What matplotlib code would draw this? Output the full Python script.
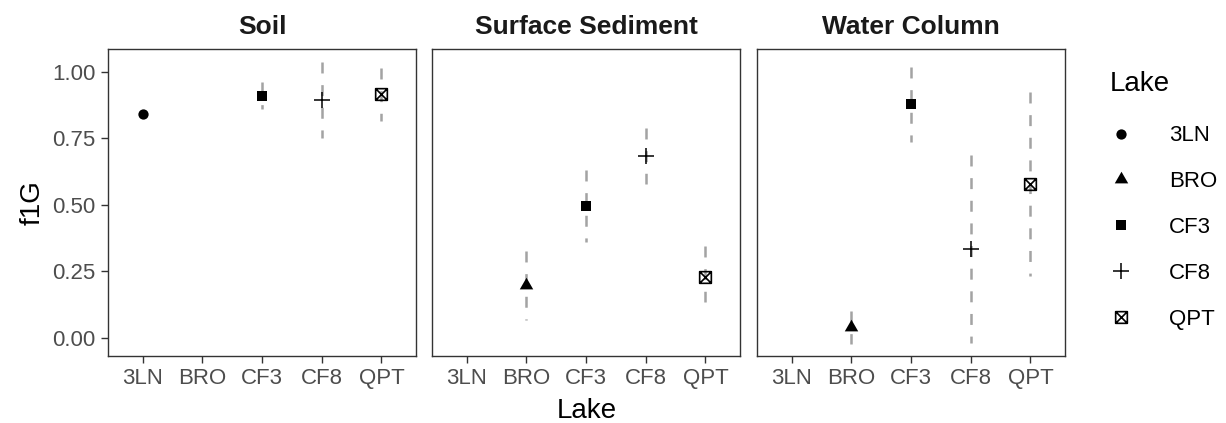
import numpy as np
import matplotlib
matplotlib.use("Agg")
import matplotlib.pyplot as plt
from matplotlib.path import Path
from matplotlib.lines import Line2D

plt.rcParams['font.family'] = ['Liberation Sans', 'DejaVu Sans']
plt.rcParams['lines.scale_dashes'] = False

# ---------------- data ----------------
lakes = ['3LN', 'BRO', 'CF3', 'CF8', 'QPT']
panels = ['Soil', 'Surface Sediment', 'Water Column']

soil_mean = [0.842, np.nan, 0.910, 0.894, 0.916]
soil_low = [np.nan, np.nan, 0.860, 0.751, 0.817]
soil_high = [np.nan, np.nan, 0.964, 1.037, 1.014]

sed_mean = [np.nan, 0.198, 0.496, 0.685, 0.230]
sed_low = [np.nan, 0.067, 0.359, 0.579, 0.133]
sed_high = [np.nan, 0.328, 0.631, 0.791, 0.346]

wat_mean = [np.nan, 0.042, 0.879, 0.333, 0.579]
wat_low = [np.nan, -0.024, 0.736, -0.021, 0.233]
wat_high = [np.nan, 0.100, 1.020, 0.688, 0.924]

yticks = [0.00, 0.25, 0.50, 0.75, 1.00]
ytick_labels = ['0.00', '0.25', '0.50', '0.75', '1.00']

means = [soil_mean, sed_mean, wat_mean]
lows = [soil_low, sed_low, wat_low]
highs = [soil_high, sed_high, wat_high]

# ---------------- markers ----------------
tri = Path([(0, 1), (-0.866, -0.5), (0.866, -0.5), (0, 1)],
           [Path.MOVETO, Path.LINETO, Path.LINETO, Path.CLOSEPOLY])
boxx = Path([(-1, -1), (1, -1), (1, 1), (-1, 1), (-1, -1),
             (-1, -1), (1, 1), (-1, 1), (1, -1)],
            [Path.MOVETO, Path.LINETO, Path.LINETO, Path.LINETO, Path.CLOSEPOLY,
             Path.MOVETO, Path.LINETO, Path.MOVETO, Path.LINETO])

mstyles = {
    '3LN': dict(marker='o', markersize=7.4, markerfacecolor='black', markeredgecolor='black', markeredgewidth=0),
    'BRO': dict(marker=tri, markersize=11.2, markerfacecolor='black', markeredgecolor='black', markeredgewidth=0),
    'CF3': dict(marker='s', markersize=7.4, markerfacecolor='black', markeredgecolor='black', markeredgewidth=0),
    'CF8': dict(marker='+', markersize=12, markerfacecolor='black', markeredgecolor='black', markeredgewidth=1.1),
    'QPT': dict(marker=boxx, markersize=8.4, markerfacecolor='none', markeredgecolor='black', markeredgewidth=1.2),
}

W, H = 1226, 423
fig = plt.figure(figsize=(W / 100, H / 100), dpi=100)

lefts_px = [108, 432, 757]
top_px, bot_px = 49, 356
width_px = 308

for i, (name, lefpx) in enumerate(zip(panels, lefts_px)):
    ax = fig.add_axes([lefpx / W, (H - bot_px) / H, width_px / W, (bot_px - top_px) / H])
    x = np.arange(1, len(lakes) + 1)
    for j, lk in enumerate(lakes):
        lo, hi, m = lows[i][j], highs[i][j], means[i][j]
        if not np.isnan(lo):
            ax.plot([x[j], x[j]], [hi, lo], color='#A3A3A3', lw=1.8,
                    linestyle=(0, (7.9, 8.4)), solid_capstyle='butt', zorder=2)
        if not np.isnan(m):
            ax.plot([x[j]], [m], linestyle='none', zorder=3, **mstyles[lk])
    ax.set_xlim(0.42, 5.58)
    ax.set_ylim(-0.069, 1.087)
    ax.set_xticks(x)
    ax.set_xticklabels(lakes)
    ax.set_yticks(yticks)
    if i == 0:
        ax.set_yticklabels(ytick_labels)
        ax.tick_params(axis='y', length=5.2, width=1.0, color='#333333',
                       labelsize=16, labelcolor='#4D4D4D', pad=4)
    else:
        ax.tick_params(axis='y', length=0, labelleft=False)
    ax.tick_params(axis='x', length=5.2, width=1.0, color='#333333',
                   labelsize=16, labelcolor='#4D4D4D', pad=3.5)
    for sp in ax.spines.values():
        sp.set_color('#333333')
        sp.set_linewidth(1.0)
    ax.set_title(name, fontsize=19, fontweight='bold', color='#1A1A1A', pad=10.5)

fig.text(587 / W, 1 - 411 / H, 'Lake', fontsize=20, ha='center', va='center', color='black')
fig.text(33 / W, 1 - 203 / H, 'f1G', fontsize=20, ha='center', va='center', rotation=90, color='black')

handles = [Line2D([], [], linestyle='none', **mstyles[lk]) for lk in lakes]
leg = fig.legend(handles, lakes, loc='upper left', bbox_to_anchor=(1110 / W, 1 - 71 / H),
                 frameon=False, fontsize=16, title='Lake', title_fontsize=20,
                 alignment='left', borderpad=0, handlelength=1.0, handletextpad=1.65,
                 labelspacing=1.12, borderaxespad=0)
leg._legend_box.sep = leg._legend_box.sep + 2.5

fig.savefig('out.png', dpi=100, facecolor='white')
